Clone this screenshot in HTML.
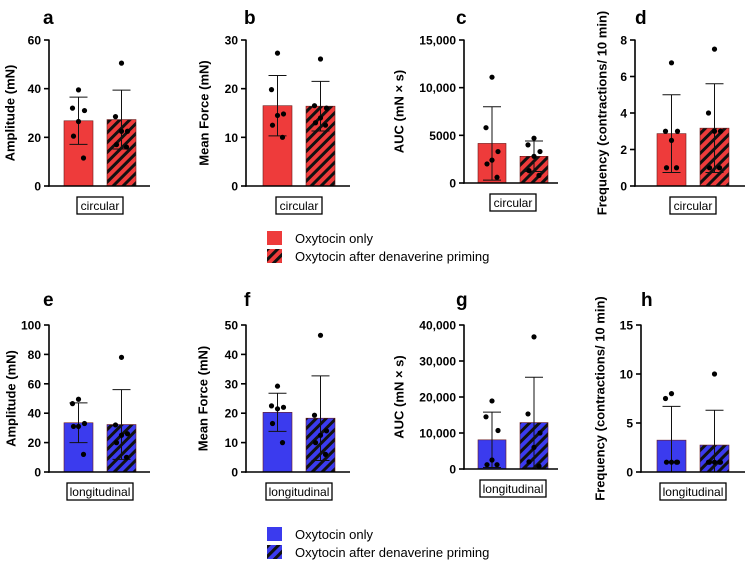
<!DOCTYPE html>
<html><head><meta charset="utf-8">
<style>
body{margin:0;background:#fff;width:750px;height:562px;overflow:hidden}
svg{font-family:"Liberation Sans",Arial,sans-serif}
</style></head>
<body>
<svg id="fig" width="750" height="562" viewBox="0 0 750 562" xmlns="http://www.w3.org/2000/svg">
<defs>
<pattern id="hatchRed" patternUnits="userSpaceOnUse" width="7" height="7" patternTransform="rotate(45)">
<rect width="7" height="7" fill="#ee3b3b"/><rect width="3" height="7" fill="#111"/></pattern>
<pattern id="hatchBlue" patternUnits="userSpaceOnUse" width="7" height="7" patternTransform="rotate(45)">
<rect width="7" height="7" fill="#3b3bee"/><rect width="3" height="7" fill="#111"/></pattern>
</defs>
<g id="legend-top">
<rect x="267" y="231" width="15" height="14" fill="#ee3b3b"/>
<text x="295" y="243" font-size="13">Oxytocin only</text>
<rect x="267" y="249" width="15" height="14" fill="url(#hatchRed)"/>
<text x="295" y="261" font-size="13">Oxytocin after denaverine priming</text>
</g>
<g id="legend-bottom">
<rect x="267" y="527" width="15" height="14" fill="#3b3bee"/>
<text x="295" y="539" font-size="13">Oxytocin only</text>
<rect x="267" y="545" width="15" height="14" fill="url(#hatchBlue)"/>
<text x="295" y="557" font-size="13">Oxytocin after denaverine priming</text>
</g>
</svg>
<script>
// ---- data ----
const categories = ["Oxytocin only", "Oxytocin after denaverine priming"];
const meanA = [26.8, 27.3]; const sdTopA = [36.5, 39.4];
const ptsA1 = [39.5, 32, 31, 26.5, 20.5, 11.5]; const ptsA2 = [50.5, 28.5, 22.5, 22.5, 17, 16];
const meanB = [16.5, 16.4]; const sdTopB = [22.7, 21.5];
const ptsB1 = [27.3, 19.8, 14.8, 14.5, 12.5, 10]; const ptsB2 = [26.1, 16.5, 16, 14, 13, 12.5];
const meanC = [4150, 2800]; const sdTopC = [8000, 4400];
const ptsC1 = [11100, 5800, 3300, 2400, 2000, 600]; const ptsC2 = [4700, 4000, 3300, 2800, 1300, 800];
const meanD = [2.87, 3.17]; const sdTopD = [5.0, 5.6];
const ptsD1 = [6.75, 3, 3, 2.5, 1, 1]; const ptsD2 = [7.5, 4, 3, 3, 1, 1];
const meanE = [33.5, 32.3]; const sdTopE = [47, 56];
const ptsE1 = [49.5, 46.5, 33, 31, 31, 12]; const ptsE2 = [78, 32, 26, 25, 20, 10];
const meanF = [20.3, 18.3]; const sdTopF = [26.8, 32.7];
const ptsF1 = [29.2, 22.5, 22, 21.5, 16.5, 10]; const ptsF2 = [46.5, 19.3, 14, 12.5, 10, 6];
const meanG = [8100, 12900]; const sdTopG = [15800, 25500];
const ptsG1 = [18900, 14500, 10700, 2500, 1200, 1200]; const ptsG2 = [36700, 15300, 10000, 6000, 2000, 800];
const meanH = [3.25, 2.75]; const sdTopH = [6.7, 6.3];
const ptsH1 = [8, 7.5, 1, 1, 1, 1]; const ptsH2 = [10, 1, 1, 1, 1, 1];
const ticksA = [0, 20, 40, 60]; const ticksB = [0, 10, 20, 30];
const ticksC = [0, 5000, 10000, 15000]; const tickLabelsC = ["0", "5000", "10,000", "15,000"];
const ticksD = [0, 2, 4, 6, 8];
const ticksE = [0, 20, 40, 60, 80, 100]; const ticksF = [0, 10, 20, 30, 40, 50];
const ticksG = [0, 10000, 20000, 30000, 40000]; const tickLabelsG = ["0", "10,000", "20,000", "30,000", "40,000"];
const ticksH = [0, 5, 10, 15];

const NS = "http://www.w3.org/2000/svg";
const svg = document.getElementById("fig");
function mk(tag, attrs, parent) {
  const e = document.createElementNS(NS, tag);
  for (const k in attrs) e.setAttribute(k, attrs[k]);
  (parent || svg).appendChild(e); return e;
}
const jitX = [0, -6, 6, 0, -5, 5];
const panels = [
 {id:"a",ax:49,x1:150,yT:40,y0:186,bx:[64,107],bw:29,max:60,ticks:ticksA,tl:null,mean:meanA,sd:sdTopA,pts:[ptsA1,ptsA2],title:"Amplitude (mN)",tx:11,cat:"circular",col:"#ee3b3b",hat:"url(#hatchRed)",lx:43,ly:24},
 {id:"b",ax:246,x1:350,yT:40,y0:186,bx:[263,306],bw:29,max:30,ticks:ticksB,tl:null,mean:meanB,sd:sdTopB,pts:[ptsB1,ptsB2],title:"Mean Force (mN)",tx:205,cat:"circular",col:"#ee3b3b",hat:"url(#hatchRed)",lx:244,ly:24},
 {id:"c",ax:464,x1:558,yT:40,y0:183,bx:[478,520],bw:28,max:15000,ticks:ticksC,tl:tickLabelsC,mean:meanC,sd:sdTopC,pts:[ptsC1,ptsC2],title:"AUC (mN × s)",tx:400,cat:"circular",col:"#ee3b3b",hat:"url(#hatchRed)",lx:456,ly:24},
 {id:"d",ax:635,x1:745,yT:40,y0:186,bx:[657,700],bw:29,max:8,ticks:ticksD,tl:null,mean:meanD,sd:sdTopD,pts:[ptsD1,ptsD2],title:"Frequency (contractions/ 10 min)",tx:603,cat:"circular",col:"#ee3b3b",hat:"url(#hatchRed)",lx:635,ly:24},
 {id:"e",ax:49,x1:150,yT:325,y0:472,bx:[64,107],bw:29,max:100,ticks:ticksE,tl:null,mean:meanE,sd:sdTopE,pts:[ptsE1,ptsE2],title:"Amplitude (mN)",tx:12,cat:"longitudinal",col:"#3b3bee",hat:"url(#hatchBlue)",lx:43,ly:306},
 {id:"f",ax:246,x1:350,yT:325,y0:472,bx:[263,306],bw:29,max:50,ticks:ticksF,tl:null,mean:meanF,sd:sdTopF,pts:[ptsF1,ptsF2],title:"Mean Force (mN)",tx:204,cat:"longitudinal",col:"#3b3bee",hat:"url(#hatchBlue)",lx:244,ly:306},
 {id:"g",ax:464,x1:558,yT:325,y0:469,bx:[478,520],bw:28,max:40000,ticks:ticksG,tl:tickLabelsG,mean:meanG,sd:sdTopG,pts:[ptsG1,ptsG2],title:"AUC (mN × s)",tx:400,cat:"longitudinal",col:"#3b3bee",hat:"url(#hatchBlue)",lx:456,ly:306},
 {id:"h",ax:641,x1:745,yT:325,y0:472,bx:[657,700],bw:29,max:15,ticks:ticksH,tl:null,mean:meanH,sd:sdTopH,pts:[ptsH1,ptsH2],title:"Frequency (contractions/ 10 min)",tx:601,cat:"longitudinal",col:"#3b3bee",hat:"url(#hatchBlue)",lx:641,ly:306}
];
panels.forEach(p => {
  const g = mk("g", {});
  
  
  const y = v => p.y0 - (v / p.max) * (p.y0 - p.yT);
  const lt = mk("text", {x:p.lx, y:p.ly, "font-size":19, "font-weight":"bold"}, g);
  lt.textContent = p.id;
  
  
  p.mean.forEach((m, i) => {
    const r = mk("rect", {x:p.bx[i], y:y(m), width:p.bw, height:p.y0 - y(m), fill: i ? p.hat : p.col, stroke:"#6a1a1a", "stroke-width":0.6}, g);
    
    
  });
  p.mean.forEach((m, i) => {
    const cx = p.bx[i] + p.bw / 2;
    const lo = Math.max(0, 2 * m - p.sd[i]);
    const eg = mk("g", {stroke:"#111", "stroke-width":1}, g);
    
    
    mk("line", {x1:cx, x2:cx, y1:y(p.sd[i]), y2:y(lo)}, eg);
    mk("line", {x1:cx-9, x2:cx+9, y1:y(p.sd[i]), y2:y(p.sd[i])}, eg);
    if (lo > 0) mk("line", {x1:cx-9, x2:cx+9, y1:y(lo), y2:y(lo)}, eg);
  });
  p.pts.forEach((arr, i) => {
    const cx = p.bx[i] + p.bw / 2;
    arr.forEach((v, k) => {
      const c = mk("circle", {cx: cx + jitX[k], cy: y(v), r: 2.6, fill:"#000"}, g);
      
      
    });
  });
  const ya = mk("line", {x1:p.ax, x2:p.ax, y1:p.yT - 0.5, y2:p.y0 + 0.8, stroke:"#000", "stroke-width":1.6}, g);
  
  
  const xa = mk("line", {x1:p.ax - 0.8, x2:p.x1, y1:p.y0, y2:p.y0, stroke:"#000", "stroke-width":1.6}, g);
  
  
  p.ticks.forEach((t, k) => {
    mk("line", {x1:p.ax - 5, x2:p.ax, y1:y(t), y2:y(t), stroke:"#000", "stroke-width":1.6}, g);
    const tt = mk("text", {x:p.ax - 8, y:y(t) + 4.5, "font-size":12, "font-weight":"bold", "text-anchor":"end"}, g);
    tt.textContent = p.tl ? p.tl[k] : String(t);
    
    
  });
  const cy = (p.yT + p.y0) / 2;
  const yt = mk("text", {x:p.tx, y:cy, "font-size":13, "font-weight":"bold", "text-anchor":"middle", transform:`rotate(-90 ${p.tx} ${cy})`, "dominant-baseline":"middle"}, g);
  yt.textContent = p.title;
  
  
  const mid = (p.bx[0] + p.bx[1] + p.bw) / 2;
  const bwid = p.cat === "circular" ? 46 : 66;
  const by = p.y0 + 11;
  const br = mk("rect", {x:mid - bwid/2, y:by, width:bwid, height:17, fill:"#fff", stroke:"#000", "stroke-width":1.3}, g);
  
  
  const bt = mk("text", {x:mid, y:by + 13, "font-size":12, "text-anchor":"middle"}, g);
  bt.textContent = p.cat;
  
  
});
</script>
</body></html>
